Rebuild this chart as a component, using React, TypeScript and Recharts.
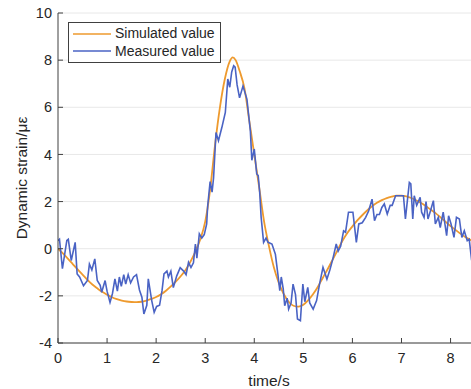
import React from 'react';
import { LineChart, Line, XAxis, YAxis, CartesianGrid } from 'recharts';

const simTime = [
  0, 0.1, 0.2, 0.3, 0.4, 0.5, 0.6, 0.7, 0.8, 0.9, 1.0, 1.1, 1.2, 1.3, 1.4, 1.5, 1.6, 1.7, 1.8, 1.9,
  2.0, 2.1, 2.2, 2.3, 2.4, 2.5, 2.6, 2.7, 2.8, 2.9, 3.0, 3.1, 3.2, 3.3, 3.4, 3.5, 3.56, 3.62, 3.7, 3.8,
  3.9, 4.0, 4.1, 4.2, 4.3, 4.4, 4.5, 4.6, 4.7, 4.8, 4.9, 5.0, 5.1, 5.2, 5.3, 5.4, 5.5, 5.6, 5.7, 5.8,
  5.9, 6.0, 6.1, 6.2, 6.3, 6.4, 6.5, 6.6, 6.7, 6.8, 6.9, 7.0, 7.1, 7.2, 7.3, 7.4, 7.5, 7.6, 7.7, 7.8,
  7.9, 8.0, 8.1, 8.2, 8.3, 8.4, 8.5,
];
const simValue = [
  0, -0.2, -0.42, -0.65, -0.88, -1.1, -1.32, -1.52, -1.68, -1.83, -1.95, -2.06, -2.14, -2.2, -2.24, -2.26, -2.27, -2.25, -2.2, -2.13,
  -2.05, -1.93, -1.78, -1.6, -1.4, -1.17, -0.9, -0.55, -0.12, 0.4, 1.15, 2.5, 4.4, 6.0, 7.2, 7.95, 8.12, 8.0, 7.55, 6.8,
  5.4, 4.0, 2.6, 1.15, 0.1, -0.8, -1.45, -1.92, -2.25, -2.42, -2.46, -2.38, -2.18, -1.92, -1.6, -1.22, -0.85, -0.45, -0.05, 0.35,
  0.68, 0.95, 1.2, 1.42, 1.62, 1.8, 1.95, 2.06, 2.15, 2.21, 2.25, 2.25, 2.22, 2.15, 2.05, 1.94, 1.8, 1.65, 1.5, 1.32,
  1.14, 0.96, 0.8, 0.64, 0.5, 0.38, 0.26,
];

const measTime = [
  0, 0.03, 0.09, 0.18, 0.21, 0.27, 0.35, 0.39, 0.44, 0.52, 0.6, 0.64, 0.69, 0.75, 0.8, 0.86, 0.89, 0.96, 1.0, 1.06,
  1.11, 1.16, 1.21, 1.25, 1.29, 1.34, 1.38, 1.43, 1.48, 1.54, 1.6, 1.66, 1.71, 1.75, 1.81, 1.84, 1.91, 1.96, 2.01, 2.07,
  2.12, 2.16, 2.22, 2.25, 2.3, 2.35, 2.42, 2.49, 2.56, 2.61, 2.66, 2.71, 2.76, 2.8, 2.83, 2.88, 2.93, 2.98, 3.03, 3.05,
  3.1, 3.14, 3.17, 3.22, 3.27, 3.34, 3.41, 3.46, 3.5, 3.54, 3.58, 3.61, 3.65, 3.7, 3.77, 3.85, 3.92, 3.95, 4.0, 4.05,
  4.08, 4.11, 4.14, 4.19, 4.24, 4.28, 4.36, 4.43, 4.48, 4.52, 4.55, 4.59, 4.62, 4.67, 4.7, 4.75, 4.79, 4.84, 4.88, 4.94,
  4.99, 5.03, 5.09, 5.13, 5.2, 5.27, 5.33, 5.4, 5.48, 5.54, 5.6, 5.67, 5.71, 5.76, 5.82, 5.86, 5.92, 6.01, 6.08, 6.13,
  6.2, 6.27, 6.33, 6.4, 6.45, 6.5, 6.55, 6.6, 6.65, 6.71, 6.77, 6.81, 6.88, 6.97, 7.04, 7.08, 7.12, 7.16, 7.19, 7.23,
  7.26, 7.31, 7.38, 7.41, 7.46, 7.5, 7.54, 7.59, 7.65, 7.69, 7.75, 7.79, 7.85, 7.92, 7.96, 8.01, 8.07, 8.12, 8.18, 8.23,
  8.28, 8.34, 8.38, 8.43,
];
const measValue = [
  0.34, 0.4, -0.85, 0.35, 0.4, -0.5, 0.27, -1.07, -1.2, -1.57, -1.35, -0.65, -0.9, -0.43, -1.35, -1.55, -1.85, -1.35, -1.8, -2.28,
  -1.9, -1.28, -1.8, -1.2, -1.6, -1.1, -1.5, -1.1, -1.45, -1.2, -1.1, -1.75, -2.06, -2.77, -2.4, -1.28, -2.2, -2.7, -2.45, -2.4,
  -1.78, -1.07, -0.95, -1.2, -0.95, -1.65, -1.15, -0.8, -0.95, -1.1, -0.58, -0.8, -0.6, 0.2, -0.4, 0.63, 0.45, 0.6, 1.05, 1.8,
  2.85, 2.4, 3.0, 4.93, 4.58, 5.15, 5.78, 7.2, 6.85, 7.5, 7.76, 7.7, 6.95, 6.4, 6.9, 6.35, 5.0, 3.75, 4.23, 3.17,
  3.1, 2.4, 1.33, 0.27, 0.45, 0.27, 0.2, -0.23, -1.07, -1.78, -1.2, -1.7, -2.42, -2.1, -2.56, -2.3, -1.5, -1.95, -2.98, -3.05,
  -1.5, -2.25, -1.64, -2.3, -2.56, -2.2, -1.5, -0.79, -1.29, -0.9, -0.44, 0.2, -0.1, 0.1, 0.76, 0.7, 1.55, 1.55, 0.27, 1.05,
  1.1, 1.33, 1.6, 2.1, 1.19, 1.45, 1.45, 1.75, 1.9, 1.47, 1.84, 1.84, 2.25, 2.25, 2.25, 1.26, 2.04, 2.81, 2.75, 1.26,
  2.25, 1.84, 2.18, 1.55, 1.33, 2.0, 1.26, 1.6, 2.04, 1.05, 1.33, 0.9, 1.55, 0.55, 1.4, 1.05, 0.48, 1.33, 1.26, 0.48,
  0.76, 0.34, 0.4, -0.5,
];

const xTicks = [0, 1, 2, 3, 4, 5, 6, 7, 8];
const yTicks = [-4, -2, 0, 2, 4, 6, 8, 10];

const simData = simTime.map((t, i) => ({ t, v: simValue[i] }));
const measData = measTime.map((t, i) => ({ t, v: measValue[i] }));

const FONT = '"Liberation Sans", Arial, sans-serif';
const AXIS = '#404040';
const TEXT = '#262626';
const SIM_COLOR = '#EE9A2E';
const MEAS_COLOR = '#4A63C4';

const legendItems = [
  { name: 'Simulated value', color: SIM_COLOR },
  { name: 'Measured value', color: MEAS_COLOR },
];

// legend drawn as an overlay so it doesn't eat into the plot area
const LegendBox = () => (
  <div
    style={{
      position: 'absolute',
      left: 68,
      top: 22,
      width: 147,
      height: 37,
      border: `1px solid ${AXIS}`,
      background: '#fff',
      padding: '2px 0 0 4px',
      boxSizing: 'content-box',
      fontFamily: FONT,
      fontSize: 14,
      color: TEXT,
      lineHeight: '17.5px',
    }}
  >
    {legendItems.map((it) => (
      <div key={it.name} style={{ display: 'flex', alignItems: 'center', whiteSpace: 'nowrap' }}>
        <svg width={38} height={10} style={{ marginRight: 4 }}>
          <line x1={0} y1={5} x2={38} y2={5} stroke={it.color} strokeWidth={1.6} />
        </svg>
        <span>{it.name}</span>
      </div>
    ))}
  </div>
);

export default function App() {
  return (
    <div
      style={{
        position: 'fixed',
        left: 0,
        top: 0,
        width: 471,
        height: 389,
        overflow: 'hidden',
        background: '#fff',
      }}
    >
      <LineChart width={480} height={389} margin={{ top: 13, right: 0, left: 0, bottom: 0 }}>
        <CartesianGrid vertical={false} stroke="#e8e8e8" />
        <XAxis
          dataKey="t"
          type="number"
          domain={[0, 8.6]}
          ticks={xTicks}
          allowDataOverflow
          height={46}
          tickSize={-5}
          tickMargin={15}
          stroke={AXIS}
          tick={{ fill: TEXT, fontSize: 14.5, fontFamily: FONT }}
          label={{ value: 'time/s', position: 'insideBottom', offset: 3, fill: TEXT, fontSize: 15.5, fontFamily: FONT }}
        />
        <XAxis
          xAxisId="top"
          orientation="top"
          dataKey="t"
          type="number"
          domain={[0, 8.6]}
          ticks={xTicks}
          allowDataOverflow
          height={0}
          tickSize={-5}
          stroke={AXIS}
          tickFormatter={() => ''}
        />
        <YAxis
          type="number"
          domain={[-4, 10]}
          ticks={yTicks}
          width={58}
          tickSize={-5}
          tickMargin={11}
          stroke={AXIS}
          tick={{ fill: TEXT, fontSize: 14.5, fontFamily: FONT }}
          label={{
            value: 'Dynamic strain/με',
            angle: -90,
            position: 'insideLeft',
            offset: 21,
            fill: TEXT,
            fontSize: 15.5,
            fontFamily: FONT,
            style: { textAnchor: 'middle' },
          }}
        />
        <Line
          data={simData}
          dataKey="v"
          type="monotone"
          stroke={SIM_COLOR}
          strokeWidth={1.8}
          dot={false}
          isAnimationActive={false}
        />
        <Line
          data={measData}
          dataKey="v"
          type="linear"
          stroke={MEAS_COLOR}
          strokeWidth={1.6}
          dot={false}
          isAnimationActive={false}
        />
      </LineChart>
      <LegendBox />
    </div>
  );
}
